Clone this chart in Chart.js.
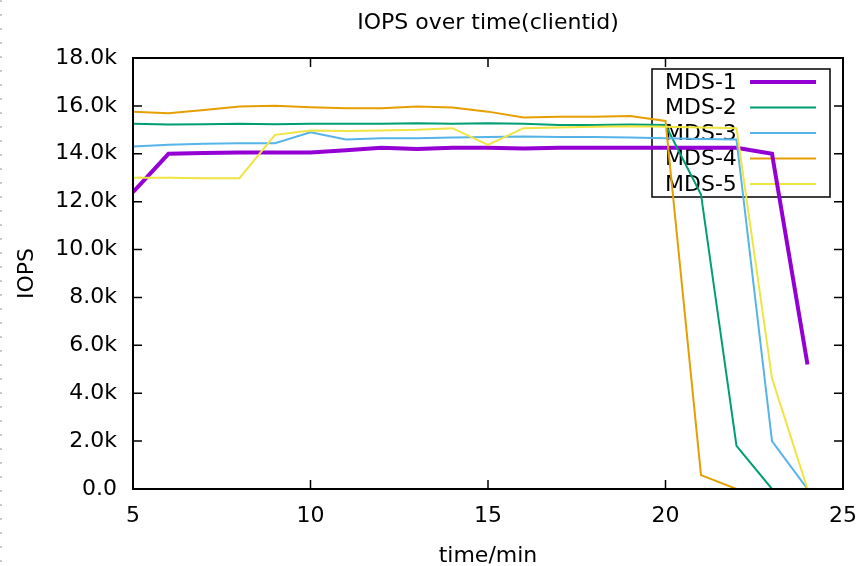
<!DOCTYPE html>
<html>
<head>
<meta charset="utf-8">
<script src="https://cdn.jsdelivr.net/npm/chart.js@4"></script>
<style>
  body { margin: 0; background: #fff; }
  #wrap { position: relative; width: 861px; height: 566px; }
  #edge {
    position: absolute; left: 0; top: 0; width: 2px; height: 566px;
    background: repeating-linear-gradient(to bottom, #c8c8c8 0 2px, transparent 2px 14px);
  }
</style>
</head>
<body>
<div id="wrap">
  <canvas id="iops" width="861" height="566"></canvas>
  <div id="edge"></div>
</div>
<script>
const minutes = [5, 6, 7, 8, 9, 10, 11, 12, 13, 14, 15, 16, 17, 18, 19, 20, 21, 22, 23, 24];

const mds1 = [12400, 14000, 14030, 14050, 14050, 14050, 14150, 14250, 14200, 14250,
              14250, 14220, 14250, 14250, 14250, 14250, 14250, 14250, 14000, 5200];
const mds2 = [15250, 15220, 15230, 15250, 15230, 15250, 15250, 15250, 15280, 15250,
              15280, 15250, 15200, 15200, 15220, 15200, 12300, 1800, 0, 0];
const mds3 = [14300, 14380, 14420, 14440, 14440, 14900, 14600, 14650, 14650, 14680,
              14700, 14720, 14700, 14700, 14680, 14650, 14620, 14600, 2000, 0];
const mds4 = [15760, 15690, 15830, 15970, 16010, 15940, 15900, 15900, 15970, 15930,
              15760, 15520, 15550, 15550, 15580, 15370, 580, 0, 0, 0];
const mds5 = [13000, 13000, 12980, 12980, 14790, 14970, 14950, 14970, 15000, 15070,
              14370, 15070, 15100, 15130, 15150, 15130, 15100, 15070, 4620, 0];

const seriesNames = ['MDS-1', 'MDS-2', 'MDS-3', 'MDS-4', 'MDS-5'];
const seriesValues = [mds1, mds2, mds3, mds4, mds5];
const seriesColors = ['#9400d3', '#009e73', '#56b4e9', '#e69f00', '#f0e442'];
const seriesWidths = [4, 2, 2, 2, 2];

const chartTitle = 'IOPS over time(clientid)';
const xTitle = 'time/min';
const yTitle = 'IOPS';

const FONT = "'DejaVu Sans', sans-serif";
const SIZE = 22;

// gnuplot style key: text on the left, line sample on the right, drawn under the data
const keyBox = {
  id: 'keyBox',
  beforeDatasetsDraw(chart) {
    const { ctx, chartArea } = chart;
    const right = chartArea.right - 13;
    const left = right - 178;
    const top = chartArea.top + 11;
    const rowH = 25.5;
    const bottom = top + rowH * 5 + 0.5;
    ctx.save();
    ctx.strokeStyle = '#000';
    ctx.lineWidth = 1.5;
    ctx.strokeRect(left, top, right - left, bottom - top);
    ctx.font = SIZE + 'px ' + FONT;
    ctx.textBaseline = 'middle';
    ctx.fillStyle = '#000';
    chart.data.datasets.forEach((ds, i) => {
      const y = top + 13 + i * rowH;
      ctx.fillText(ds.label, left + 13, y + 1);
      ctx.beginPath();
      ctx.strokeStyle = ds.borderColor;
      ctx.lineWidth = ds.borderWidth;
      ctx.moveTo(left + 98, y);
      ctx.lineTo(left + 164, y);
      ctx.stroke();
    });
    ctx.restore();
  }
};

// border with inward, mirrored tics, plus the titles centred on the plot box
const frame = {
  id: 'frame',
  afterDatasetsDraw(chart) {
    const { ctx, chartArea: a, scales } = chart;
    const len = 9;
    ctx.save();
    ctx.strokeStyle = '#000';
    ctx.lineWidth = 1.5;
    ctx.beginPath();
    scales.x.ticks.forEach(t => {
      const px = scales.x.getPixelForValue(t.value);
      ctx.moveTo(px, a.bottom); ctx.lineTo(px, a.bottom - len);
      ctx.moveTo(px, a.top); ctx.lineTo(px, a.top + len);
    });
    scales.y.ticks.forEach(t => {
      const py = scales.y.getPixelForValue(t.value);
      ctx.moveTo(a.left, py); ctx.lineTo(a.left + len, py);
      ctx.moveTo(a.right, py); ctx.lineTo(a.right - len, py);
    });
    ctx.stroke();
    ctx.lineWidth = 2;
    ctx.strokeRect(a.left, a.top, a.right - a.left, a.bottom - a.top);

    const cx = (a.left + a.right) / 2;
    const cy = (a.top + a.bottom) / 2;
    ctx.fillStyle = '#000';
    ctx.font = SIZE + 'px ' + FONT;
    ctx.textAlign = 'center';
    ctx.textBaseline = 'alphabetic';
    ctx.fillText(chartTitle, cx, a.top - 29);
    ctx.fillText(xTitle, cx, a.bottom + 73);
    ctx.translate(a.left - 100, cy);
    ctx.rotate(-Math.PI / 2);
    ctx.fillText(yTitle, 0, 0);
    ctx.restore();
  }
};

new Chart(document.getElementById('iops'), {
  type: 'line',
  data: {
    datasets: seriesNames.map((name, i) => ({
      label: name,
      data: minutes.map((m, j) => ({ x: m, y: seriesValues[i][j] })),
      borderColor: seriesColors[i],
      backgroundColor: seriesColors[i],
      borderWidth: seriesWidths[i],
      pointRadius: 0,
      tension: 0,
      order: seriesNames.length - i
    }))
  },
  options: {
    responsive: false,
    animation: false,
    layout: { padding: { left: 0, right: 18, top: 58, bottom: 0 } },
    plugins: {
      legend: { display: false },
      tooltip: { enabled: false },
      title: { display: false }
    },
    scales: {
      x: {
        type: 'linear',
        min: 5,
        max: 25,
        afterFit(scale) {
          scale.height = 77;
          scale.paddingLeft = 0;
          scale.paddingRight = 0;
        },
        grid: { display: false, drawTicks: false },
        border: { display: false },
        ticks: {
          stepSize: 5,
          padding: 14,
          color: '#000',
          font: { family: FONT, size: SIZE }
        }
      },
      y: {
        min: 0,
        max: 18000,
        afterFit(scale) {
          scale.width = 133;
          scale.paddingTop = 0;
          scale.paddingBottom = 0;
        },
        grid: { display: false, drawTicks: false },
        border: { display: false },
        ticks: {
          stepSize: 2000,
          padding: 16,
          color: '#000',
          font: { family: FONT, size: SIZE },
          callback: v => v === 0 ? '0.0' : (v / 1000).toFixed(1) + 'k'
        }
      }
    }
  },
  plugins: [keyBox, frame]
});
</script>
</body>
</html>
